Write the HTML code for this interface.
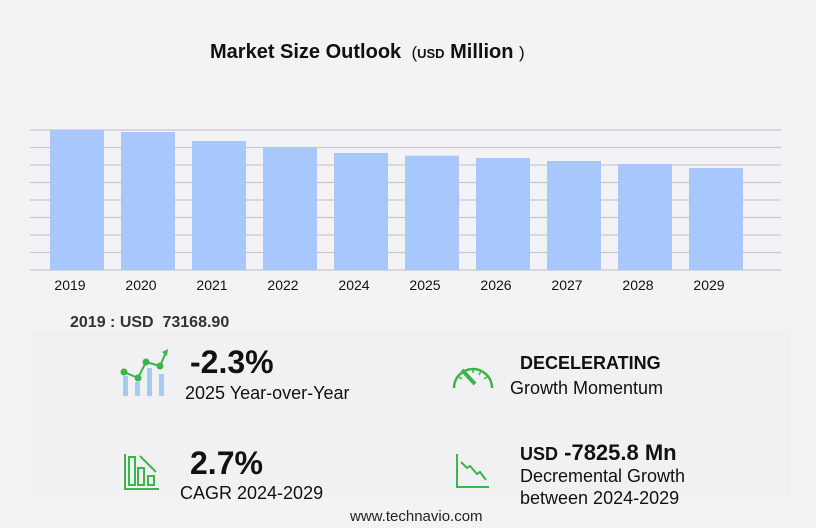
<!DOCTYPE html>
<html><head><meta charset="utf-8"><style>
body{margin:0;width:816px;height:528px;background:#f3f3f6;font-family:"Liberation Sans",sans-serif;position:relative;overflow:hidden;color:#111}
.t{position:absolute;white-space:nowrap}
</style></head><body>
<div class="t" style="left:210px;top:41px;font-size:20px;font-weight:bold">Market Size Outlook <span style="font-size:17px;font-weight:normal">&nbsp;(</span><span style="font-size:13px">USD</span> Million <span style="font-size:17px;font-weight:normal">)</span></div>
<svg id="chart" width="816" height="300" style="position:absolute;left:0;top:0"></svg>
<div class="t" style="left:70px;top:314px;font-size:16px;font-weight:bold;color:#333">2019 : USD &nbsp;73168.90</div>
<div style="position:absolute;left:32px;top:332px;width:758px;height:164px;background:#f1f1f3"></div>
<svg width="50" height="50" style="position:absolute;left:118px;top:348px">
<rect x="5" y="28" width="5" height="20" fill="#a8c8f5"/><rect x="17" y="34" width="5" height="14" fill="#a8c8f5"/><rect x="29" y="20" width="5" height="28" fill="#a8c8f5"/><rect x="41" y="26" width="5" height="22" fill="#a8c8f5"/>
<polyline points="6,24 20,30 28,14 42,18 48,4" fill="none" stroke="#3cb54a" stroke-width="2"/><circle cx="6" cy="24" r="3.5" fill="#3cb54a"/><circle cx="20" cy="30" r="3.5" fill="#3cb54a"/><circle cx="28" cy="14" r="3.5" fill="#3cb54a"/><circle cx="42" cy="18" r="3.5" fill="#3cb54a"/><polygon points="44,4 50,1 49,8" fill="#3cb54a"/></svg>
<div class="t" style="left:190px;top:344px;font-size:32px;font-weight:bold">-2.3%</div>
<div class="t" style="left:185px;top:383px;font-size:18px">2025 Year-over-Year</div>
<svg width="46" height="32" style="position:absolute;left:450px;top:360px">
<path d="M4,28 A19,19 0 1 1 42,28" fill="none" stroke="#3cb54a" stroke-width="2.5"/>
<g stroke="#3cb54a" stroke-width="1.5"><line x1="23" y1="9" x2="23" y2="13"/><line x1="31" y1="11" x2="29" y2="15"/><line x1="37" y1="17" x2="34" y2="19"/><line x1="9" y1="17" x2="12" y2="19"/></g>
<line x1="12" y1="10" x2="25" y2="24" stroke="#3cb54a" stroke-width="4"/></svg>
<div class="t" style="left:520px;top:353px;font-size:18px;font-weight:bold">DECELERATING</div>
<div class="t" style="left:510px;top:378px;font-size:18px">Growth Momentum</div>
<svg width="36" height="36" style="position:absolute;left:124px;top:454px">
<path d="M1,0 V35 H35" fill="none" stroke="#3cb54a" stroke-width="2"/><rect x="5" y="3" width="6" height="28" fill="none" stroke="#3cb54a" stroke-width="2"/><rect x="14" y="14" width="6" height="17" fill="none" stroke="#3cb54a" stroke-width="2"/><rect x="24" y="22" width="6" height="9" fill="none" stroke="#3cb54a" stroke-width="2"/><line x1="16" y1="2" x2="32" y2="18" stroke="#3cb54a" stroke-width="2"/></svg>
<div class="t" style="left:190px;top:445px;font-size:32px;font-weight:bold">2.7%</div>
<div class="t" style="left:180px;top:483px;font-size:18px">CAGR 2024-2029</div>
<svg width="36" height="36" style="position:absolute;left:455px;top:454px">
<path d="M2,0 V33 H34" fill="none" stroke="#3cb54a" stroke-width="2"/><polyline points="6,8 12,14 15,12 22,20 25,18 31,26" fill="none" stroke="#3cb54a" stroke-width="2"/></svg>
<div class="t" style="left:520px;top:440px;font-size:22px;font-weight:bold"><span style="font-size:18px">USD</span> -7825.8 Mn</div>
<div class="t" style="left:520px;top:465px;font-size:18px;line-height:22px">Decremental Growth<br>between 2024-2029</div>
<div class="t" style="left:350px;top:508px;font-size:15px;color:#222">www.technavio.com</div>
<script>
const categories=["2019","2020","2021","2022","2024","2025","2026","2027","2028","2029"];
const values=[73168.9,72124,67420,64283,61147,59740,58534,56966,55398,53309];
const yMax=73168.9;
const svg=document.getElementById('chart');const NS='http://www.w3.org/2000/svg';
const top0=130,base=270,left0=30,right0=781;
const y=v=>base-(v/yMax)*(base-top0);
const x=i=>50+i*71;
for(let k=0;k<=8;k++){const l=document.createElementNS(NS,'line');const yy=top0+k*(base-top0)/8;
l.setAttribute('x1',left0);l.setAttribute('x2',right0);l.setAttribute('y1',yy);l.setAttribute('y2',yy);l.setAttribute('stroke','#c8c8cc');l.setAttribute('stroke-width','1.2');


svg.appendChild(l);}
categories.forEach((c,i)=>{const r=document.createElementNS(NS,'rect');
r.setAttribute('x',x(i));r.setAttribute('width',54);r.setAttribute('y',y(values[i]));r.setAttribute('height',base-y(values[i]));r.setAttribute('fill','#a8c8fd');


svg.appendChild(r);
const t=document.createElementNS(NS,'text');t.setAttribute('x',x(i)+20);t.setAttribute('y',290);t.setAttribute('text-anchor','middle');t.setAttribute('font-size','14');t.setAttribute('font-family','Liberation Sans, sans-serif');t.setAttribute('fill','#111');t.textContent=c;


svg.appendChild(t);});
</script>
</body></html>
